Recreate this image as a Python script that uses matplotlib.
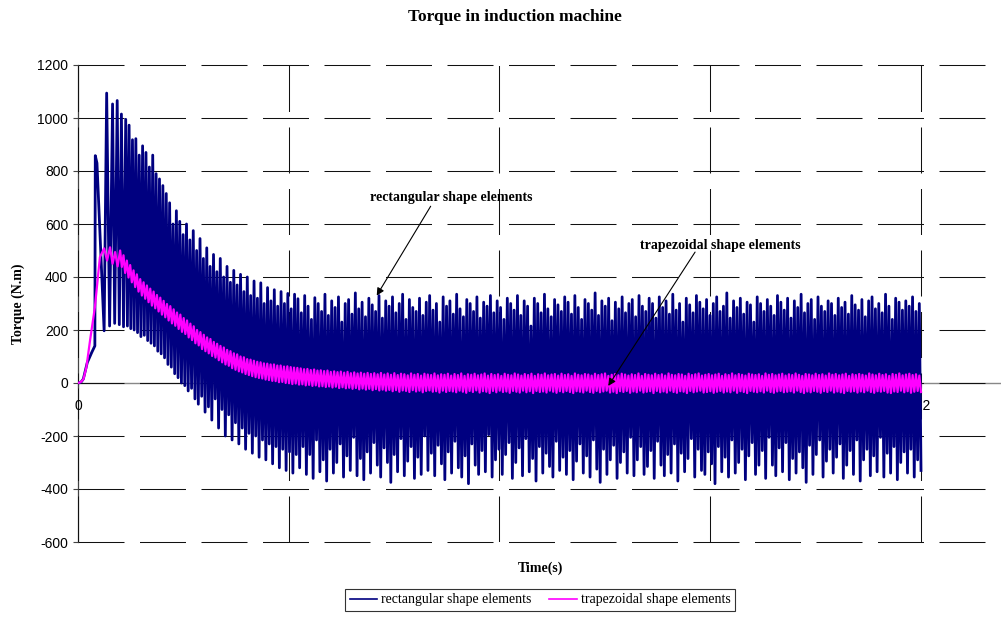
import numpy as np
import matplotlib
matplotlib.use("Agg")
import matplotlib.pyplot as plt

plt.rcParams['lines.scale_dashes'] = False
plt.rcParams['path.simplify'] = False

# ---------------- data ----------------
# Rectangular shape elements: start-up segment (time s, torque N.m)
rect_start_t = [0.0, 0.0007, 0.00126, 0.0022, 0.00325, 0.0040, 0.0041, 0.0045,
                0.0062, 0.0068, 0.0075, 0.0082, 0.0087, 0.0093, 0.0098, 0.0103, 0.0108]
rect_start_v = [0, 3, 15, 77, 115, 140, 858, 830,
                197, 1094, 215, 1053, 225, 1066, 220, 1015, 212]
# then successive ripple peaks / troughs, evenly spaced from 0.01132 s to 0.2 s
rect_seg_start = 0.01132
rect_peaks = [
    995, 973, 918, 922, 860, 895, 870, 815, 860, 790, 770, 745, 715, 680, 600, 650, 610, 560, 600, 540,
    575, 500, 545, 470, 510, 440, 485, 420, 470, 400, 440, 380, 425, 370, 410, 345, 400, 330, 385, 320,
    378, 300, 360, 310, 352, 290, 345, 300, 338, 280, 335,
    318, 265, 330, 290, 240, 322, 300, 270, 335, 255, 310, 285, 325, 230, 300, 315, 260, 340, 280, 305,
    250, 320, 295, 270, 330, 245, 310, 290, 325, 265, 300, 335, 240, 315, 285, 270, 320, 255, 305, 330,
    275, 300, 230, 325, 290, 310, 260, 335, 280, 250, 315, 300, 270, 325, 245, 305, 290, 330, 265, 310,
    285, 240, 320, 300, 275, 330, 255, 310, 290, 215, 320, 300, 265, 335, 280, 250, 315, 295, 270, 325,
    305, 260, 330, 285, 240, 315, 300, 275, 340, 255, 310, 290, 320, 235, 305, 280, 325, 265, 300, 315,
    250, 330, 290, 270, 320, 300, 245, 325, 285, 310, 260, 335, 275, 300, 230, 320, 295, 265, 330, 305,
    280, 315, 255, 300, 325, 270, 290, 340, 245, 310, 285, 320, 260, 305, 295, 230, 325, 300, 270, 315,
    290, 255, 330, 305, 275, 320, 245, 310, 285, 335, 265, 300, 315, 240, 325, 290, 270, 310, 300, 255,
    320, 285, 305, 260, 330, 295, 275, 315, 250, 310, 325, 280, 300, 265, 335, 290, 240, 320, 305, 275,
    310, 290, 325, 270, 300]
rect_troughs = [
    215, 205, 200, 190, 175, 180, 160, 150, 140, 120, 110, 95, 70, 60, 35, 20, 0, -10, -30, -20,
    -60, -80, -50, -110, -90,
    -140, -60, -170, -100, -200, -120, -215, -150, -230, -170, -250, -190, -265, -200, -280, -215,
    -290, -230, -305, -240, -320, -250, -330, -260, -340, -270,
    -320, -240, -345, -270, -360, -215, -335, -290, -370, -250, -340, -300, -230, -355, -275, -330, -205, -350, -285, -365,
    -260, -340, -225, -310, -355, -245, -300, -375, -270, -335, -210, -350, -295, -240, -360, -280, -345, -200, -330, -265,
    -350, -235, -305, -365, -260, -340, -220, -320, -355, -275, -380, -230, -310, -345, -255, -335, -195, -355, -290, -250,
    -345, -270, -225, -360, -300, -245, -350, -210, -335, -285, -370, -240, -340, -265, -315, -355, -220, -330, -280, -345,
    -255, -365, -295, -230, -340, -275, -355, -215, -325, -375, -250, -345, -290, -235, -360, -300, -260, -340, -205, -350,
    -290, -240, -345, -315, -255, -360, -220, -310, -350, -270, -340, -230, -370, -265, -335, -285, -210, -355, -250, -330,
    -345, -260, -305, -380, -240, -335, -280, -355, -215, -340, -300, -250, -365, -275, -225, -345, -310, -255, -360, -205,
    -310, -350, -245, -335, -225, -365, -285, -340, -260, -320, -375, -235, -345, -270, -215, -355, -295, -250, -340, -280,
    -230, -360, -310, -255, -345, -215, -370, -290, -250, -350, -275, -335, -205, -355, -265, -340, -240, -365, -300, -260,
    -340, -250, -355, -290, -330]

# Trapezoidal shape elements: start-up segment
trap_start_t = [0.0, 0.0007, 0.0013, 0.0020, 0.00285, 0.0040, 0.0052, 0.0062,
                0.0069, 0.0076, 0.0082, 0.0088, 0.0094]
trap_start_v = [0, 4, 15, 60, 160, 285, 475, 508, 462, 512, 450, 494, 440]
# then ripple highs / lows, evenly spaced from 0.0100 s to 0.2 s
trap_seg_start = 0.0100
trap_highs = [
    500, 482, 462, 445, 425, 410, 392, 380, 368, 356, 345, 332, 322, 310, 298, 290, 278, 266, 258, 245,
    236, 224, 214, 200, 192, 182, 172, 166, 155, 148, 140, 134, 125, 120, 112, 108, 100, 97, 90, 88,
    84, 80, 78, 74, 73, 70, 70, 66, 66, 62, 63, 60, 58, 57, 55, 52, 53, 49, 51, 47,
    48, 45, 47, 42, 44, 41, 43, 39, 42, 37, 40, 36, 39, 35, 38, 34, 37, 33, 38, 32,
    36, 31, 37, 30, 35, 33, 29, 36, 31, 34, 28, 35, 32, 30, 36, 29, 33, 31, 35, 28,
    34, 30, 36, 27, 33, 31, 35, 29, 32, 36, 28, 34, 30, 33, 27, 35, 31, 29, 36, 32,
    28, 34, 30, 35, 27, 33, 31, 36, 29, 32, 34, 28, 35, 30, 33, 27, 36, 31, 29, 34,
    32, 28, 35, 30, 33, 36, 27, 31, 34, 29, 35, 32, 28, 33, 30, 36, 27, 34, 31, 29,
    35, 30, 33, 28, 36, 31, 29, 34, 32, 27, 35, 30, 33, 36, 28, 31, 34, 29, 32, 35,
    27, 33, 30, 36, 29, 34, 31, 28, 35, 32, 30, 33, 27, 36, 31, 34, 29, 32, 35, 28,
    33, 30, 36, 31, 27, 34, 32, 29, 35, 30, 33, 28, 36, 31, 34, 29, 32, 35, 27, 33,
    30, 34, 31, 28, 36, 32, 29, 35, 30, 33, 27, 34, 31, 36, 29, 32, 35, 30, 33, 28]
trap_lows = [
    438, 415, 398, 380, 362, 345, 330, 318, 305, 292, 282, 270, 258, 248, 236, 225, 216, 204, 193, 185,
    172, 162, 150, 142, 128, 120, 112, 102, 96, 86, 78, 70, 65, 56, 50, 44, 40, 34, 30, 26,
    22, 19, 17, 13, 11, 8, 7, 3, 4, 0, -1, -4, -2, -6, -5, -9, -7, -11, -9, -13,
    -12, -15, -13, -17, -14, -19, -16, -20, -18, -22, -19, -24, -21, -25, -22, -27, -23, -28, -25, -29,
    -26, -31, -27, -33, -28, -30, -34, -27, -32, -29, -35, -30, -28, -33, -31, -36, -29, -34, -30, -32,
    -35, -29, -33, -37, -30, -34, -28, -36, -31, -33, -38, -30, -35, -29, -34, -32, -37, -30, -33, -36,
    -29, -35, -31, -38, -30, -34, -32, -36, -29, -33, -37, -31, -35, -30, -34, -38, -31, -33, -36, -29,
    -34, -37, -30, -35, -32, -29, -36, -33, -38, -31, -34, -30, -37, -32, -35, -29, -36, -33, -31, -38,
    -30, -35, -32, -36, -29, -34, -37, -31, -33, -38, -30, -35, -32, -29, -36, -34, -31, -37, -33, -30,
    -36, -32, -35, -29, -37, -31, -34, -38, -30, -33, -35, -31, -36, -29, -34, -37, -32, -30, -35, -33,
    -31, -36, -29, -34, -38, -32, -35, -30, -33, -37, -31, -34, -29, -36, -32, -35, -38, -30, -33, -31,
    -36, -32, -35, -29, -34, -37, -31, -33, -30, -36, -38, -32, -34, -29, -35, -31, -37, -33, -30, -34]

t_end = 0.2
x_ticks = [0, 0.05, 0.1, 0.15, 0.2]
x_tick_labels = ['0', '0.05', '0.1', '0.15', '0.2']
y_ticks = [-600, -400, -200, 0, 200, 400, 600, 800, 1000, 1200]
series_names = ['rectangular shape elements', 'trapezoidal shape elements']


def build(start_t, start_v, seg_start, hi, lo):
    n = min(len(hi), len(lo))
    seg = np.empty(2 * n)
    seg[0::2] = hi[:n]
    seg[1::2] = lo[:n]
    t = np.concatenate([start_t, np.linspace(seg_start, t_end, 2 * n)])
    v = np.concatenate([start_v, seg])
    return t, v


rect_t, rect_v = build(rect_start_t, rect_start_v, rect_seg_start, rect_peaks, rect_troughs)
trap_t, trap_v = build(trap_start_t, trap_start_v, trap_seg_start, trap_highs, trap_lows)

# ---------------- figure ----------------
W, H = 1001, 617
fig = plt.figure(figsize=(W / 100, H / 100), dpi=100)
ax_l, ax_r, ax_t, ax_b = 78, 1001, 65, 542
ax = fig.add_axes([ax_l / W, 1 - ax_b / H, (ax_r - ax_l) / W, (ax_b - ax_t) / H])

navy = '#000080'
magenta = '#FF00FF'
ax.plot(rect_t, rect_v, color=navy, lw=2.0, zorder=2, label=series_names[0])
ax.plot(trap_t, trap_v, color=magenta, lw=1.6, zorder=3, label=series_names[1])

ax.set_xlim(0, 0.2 * (ax_r - ax_l) / (921 - ax_l))
ax.set_ylim(-600, 1200)
ax.set_xticks(x_ticks)
ax.set_xticklabels(x_tick_labels)
ax.set_yticks(y_ticks)
ax.set_yticklabels([str(v) for v in y_ticks])

dash = (0, (46 * 0.72, 15.5 * 0.72))
ax.grid(True, axis='both', color='#111111', lw=0.75, linestyle=dash)
for gl in ax.get_ygridlines() + ax.get_xgridlines():
    gl.set_clip_on(False)

for s in ['top', 'right']:
    ax.spines[s].set_visible(False)
ax.spines['left'].set_color('#444444')
ax.spines['left'].set_linewidth(0.9)
ax.spines['bottom'].set_position(('data', 0))
ax.spines['bottom'].set_color('#888888')
ax.spines['bottom'].set_linewidth(1.0)
ax.spines['bottom'].set_zorder(1.5)
ax.spines['left'].set_zorder(1.5)

tick_font = 'Liberation Sans'
ax.tick_params(axis='y', direction='out', length=3.6, width=0.8, color='#444444',
               pad=3.5, labelsize=10)
ax.tick_params(axis='x', direction='out', length=3.6, width=0.8, color='#444444',
               pad=8, labelsize=10)
for lab in ax.get_xticklabels() + ax.get_yticklabels():
    lab.set_fontfamily(tick_font)

serif = 'Liberation Serif'
fig.text(515 / W, 1 - 17 / H, 'Torque in induction machine', ha='center', va='center',
         fontsize=12.5, fontweight='bold', family=serif)
ax.set_ylabel('Torque (N.m)', fontsize=10, fontweight='bold', family=serif, va='center')
ax.yaxis.set_label_coords((18 - ax_l) / (ax_r - ax_l), 0.5)
ax.set_xlabel('Time(s)', fontsize=10, fontweight='bold', family=serif, va='center')
ax.xaxis.set_label_coords((541 - ax_l) / (ax_r - ax_l), -(568 - ax_b) / (ax_b - ax_t))

# annotations
ax.text(0.08866, 699, 'rectangular shape elements', ha='center', va='center',
        fontsize=10, fontweight='bold', family=serif, zorder=6)
ax.annotate('', xy=(0.07087, 330), xytext=(0.08367, 667),
            arrowprops=dict(arrowstyle='-|>', color='black', lw=0.8,
                            shrinkA=0, shrinkB=0, mutation_scale=11), zorder=6)
ax.text(0.15243, 519, 'trapezoidal shape elements', ha='center', va='center',
        fontsize=10, fontweight='bold', family=serif, zorder=6)
ax.annotate('', xy=(0.1258, -11), xytext=(0.1464, 494),
            arrowprops=dict(arrowstyle='-|>', color='black', lw=0.8,
                            shrinkA=0, shrinkB=0, mutation_scale=11), zorder=6)

leg = fig.legend(loc='center', bbox_to_anchor=(540 / W, 1 - 600 / H), ncol=2,
                 frameon=True, fancybox=False, shadow=False, edgecolor='black',
                 prop={'family': serif, 'size': 10}, handlelength=2.0,
                 handletextpad=0.25, columnspacing=1.3, borderpad=0.35)
leg.get_frame().set_linewidth(0.8)
for h in leg.get_lines():
    h.set_linewidth(1.2)

fig.savefig('out.png', dpi=100)
